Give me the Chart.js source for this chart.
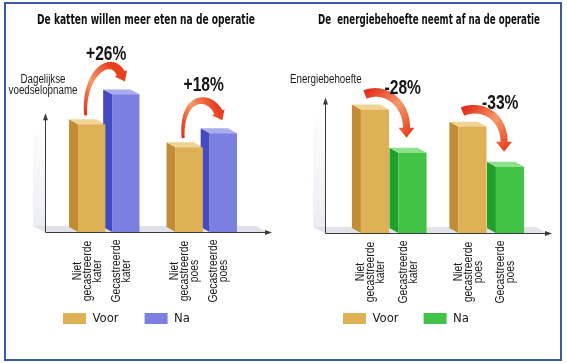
<!DOCTYPE html>
<html>
<head>
<meta charset="utf-8">
<script src="https://cdn.jsdelivr.net/npm/chart.js@4.4.1/dist/chart.umd.min.js"></script>
<style>
  html, body { margin:0; padding:0; background:#fff; }
  #wrap { position:relative; width:567px; height:363px; overflow:hidden; }
  #frame { position:absolute; left:4px; top:2px; width:554px; height:355px; border:2px solid #3d5aa8; }
  #c1 { position:absolute; left:0; top:0; }
  #c2 { position:absolute; left:283px; top:0; }
</style>
</head>
<body>
<div id="wrap">
  <div id="frame"></div>
  <canvas id="c1" width="283" height="363"></canvas>
  <canvas id="c2" width="284" height="363"></canvas>
</div>
<script>
/* data */
var groups = ['kater', 'poes'];
var voorLabels = [['Niet', 'gecastreerde', 'kater'], ['Niet', 'gecastreerde', 'poes']];
var naLabels = [['Gecastreerde', 'kater'], ['Gecastreerde', 'poes']];
var voedselVoor = [108, 85];
var voedselNa = [138, 99];
var voedselChange = ['+26%', '+18%'];
var energieVoor = [123, 106];
var energieNa = [80, 66];
var energieChange = ['-28%', '-33%'];

var FONT = '"Liberation Sans Narrow", "DejaVu Sans Condensed", "Arial Narrow", sans-serif';
var SANS = '"Liberation Sans", Arial, sans-serif';
Chart.defaults.font.family = FONT;
Chart.defaults.color = '#1a1a1a';

function poly(ctx, pts, color) {
  ctx.beginPath();
  ctx.moveTo(pts[0][0], pts[0][1]);
  for (var i = 1; i < pts.length; i++) ctx.lineTo(pts[i][0], pts[i][1]);
  ctx.closePath();
  ctx.fillStyle = color;
  ctx.fill();
}

// squeezed text, the picture uses a condensed face
function narrowText(ctx, s, x, y, sx) {
  ctx.save();
  ctx.translate(x, y);
  ctx.scale(sx, 1);
  ctx.fillText(s, 0, 0);
  ctx.restore();
}

// tapered curved arrow (cubic bezier) with a head
function curvedArrow(ctx, p0, c1, c2, p3, a) {
  var n = 40, L = [], R = [];
  for (var i = 0; i <= n; i++) {
    var t = i / n, m = 1 - t;
    var x = m*m*m*p0[0] + 3*m*m*t*c1[0] + 3*m*t*t*c2[0] + t*t*t*p3[0];
    var y = m*m*m*p0[1] + 3*m*m*t*c1[1] + 3*m*t*t*c2[1] + t*t*t*p3[1];
    var dx = 3*m*m*(c1[0]-p0[0]) + 6*m*t*(c2[0]-c1[0]) + 3*t*t*(p3[0]-c2[0]);
    var dy = 3*m*m*(c1[1]-p0[1]) + 6*m*t*(c2[1]-c1[1]) + 3*t*t*(p3[1]-c2[1]);
    var len = Math.hypot(dx, dy) || 1, nx = -dy/len, ny = dx/len;
    var w = (a.w0 + (a.w1 - a.w0) * t) / 2;
    L.push([x + nx*w, y + ny*w]);
    R.push([x - nx*w, y - ny*w]);
  }
  var tx = p3[0]-c2[0], ty = p3[1]-c2[1], tl = Math.hypot(tx, ty) || 1;
  tx /= tl; ty /= tl;
  var tip = [p3[0] + tx*a.head[0], p3[1] + ty*a.head[0]];
  var hA = [p3[0] - ty*a.head[1], p3[1] + tx*a.head[1]];
  var hB = [p3[0] + ty*a.head[1], p3[1] - tx*a.head[1]];
  var g = ctx.createLinearGradient(p0[0], p0[1], tip[0], tip[1]);
  g.addColorStop(0, '#e3301c');
  g.addColorStop(0.5, '#f49a6a');
  g.addColorStop(1, '#e8401f');
  var pts = L.concat([hA, tip, hB]).concat(R.reverse());
  poly(ctx, pts, g);
}

var deco = {
  id: 'deco',
  beforeDatasetsDraw: function(chart, args, o) {
    var ctx = chart.ctx, ca = chart.chartArea, y = chart.scales.y;
    var base = y.getPixelForValue(0), d = o.depth, dy = d * 0.55;
    var ax = ca.left - o.axisLeft, axEnd = ca.right + o.axisRight, axTop = y.getPixelForValue(o.axisTop);
    ctx.save();
    // faint back wall and floor
    var wg = ctx.createLinearGradient(0, axTop, 0, base);
    wg.addColorStop(0, 'rgba(220,222,232,0)');
    wg.addColorStop(1, 'rgba(220,222,232,0.55)');
    poly(ctx, [[ax - 12, axTop + 20], [ax, axTop + 20], [ax, base], [ax - 12, base - 6]], wg);
    poly(ctx, [[ax, base], [axEnd - 4, base], [axEnd - 14, base - 6], [ax - 12, base - 6]], '#e0e1e9');
    // bar side and top faces
    chart.data.datasets.forEach(function(ds, di) {
      chart.getDatasetMeta(di).data.forEach(function(bar) {
        var l = bar.x - bar.width / 2, r = bar.x + bar.width / 2, t = bar.y;
        poly(ctx, [[l, base], [l, t], [l - d, t - dy], [l - d, base - dy]], ds.sideColor);
        poly(ctx, [[l, t], [r, t], [r - d, t - dy], [l - d, t - dy]], ds.topColor);
      });
    });
    ctx.restore();
  },
  afterDatasetsDraw: function(chart, args, o) {
    var ctx = chart.ctx, ca = chart.chartArea, y = chart.scales.y;
    var base = y.getPixelForValue(0), d = o.depth;
    var ax = ca.left - o.axisLeft, axEnd = ca.right + o.axisRight, axTop = y.getPixelForValue(o.axisTop);
    ctx.save();
    // axes with arrow tips
    ctx.strokeStyle = '#3a3a3a';
    ctx.lineWidth = 1;
    ctx.beginPath();
    ctx.moveTo(ax + 0.5, axTop + 3);
    ctx.lineTo(ax + 0.5, base + 0.5);
    ctx.lineTo(axEnd - 3, base + 0.5);
    ctx.stroke();
    poly(ctx, [[ax + 0.5, axTop - 2], [ax - 2, axTop + 5], [ax + 3, axTop + 5]], '#3a3a3a');
    poly(ctx, [[axEnd + 2, base + 0.5], [axEnd - 5, base - 2], [axEnd - 5, base + 3]], '#3a3a3a');

    var voor = chart.getDatasetMeta(0).data, na = chart.getDatasetMeta(1).data;
    var labelSets = [voorLabels, naLabels];

    // rotated category labels under each bar
    ctx.fillStyle = '#1a1a1a';
    ctx.font = '13px ' + SANS;
    ctx.textAlign = 'center';
    ctx.textBaseline = 'middle';
    [voor, na].forEach(function(bars, di) {
      bars.forEach(function(bar, i) {
        var lines = labelSets[di][i];
        ctx.save();
        ctx.translate(bar.x - d / 2, base + o.catY);
        ctx.rotate(-Math.PI / 2);
        ctx.scale(0.8, 1);
        lines.forEach(function(s, k) {
          ctx.fillText(s, 0, (k - (lines.length - 1) / 2) * o.catLine);
        });
        ctx.restore();
      });
    });

    // change arrows + percentages
    var a = o.arrow;
    voor.forEach(function(b1, i) {
      var b2 = na[i];
      var p0 = [b1.x + a.tail[0], b1.y + a.tail[1]];
      var p3 = [b2.x + a.end[0], b2.y + a.end[1]];
      var c1 = [p0[0] + a.c1[0], p0[1] + a.c1[1]];
      var c2 = [p3[0] + a.c2[0], p3[1] + a.c2[1]];
      curvedArrow(ctx, p0, c1, c2, p3, a);
      ctx.fillStyle = '#151515';
      ctx.font = 'bold 20px ' + SANS;
      ctx.textAlign = 'center';
      ctx.textBaseline = 'middle';
      narrowText(ctx, o.changes[i], (p0[0] + p3[0]) / 2 + o.changeOffset[0], (p0[1] + p3[1]) / 2 + o.changeOffset[1], 0.78);
    });

    // y axis caption
    var yt = o.yTitle;
    ctx.fillStyle = '#1a1a1a';
    ctx.font = '12.5px ' + SANS;
    ctx.textAlign = yt.align;
    yt.lines.forEach(function(s, k) {
      narrowText(ctx, s, ca.left + yt.x, ca.top + yt.y + k * 11, yt.sx);
    });
    ctx.restore();
  }
};

function makeChart(id, title, voor, na, naColors, changes, layout, decoOpts) {
  return new Chart(document.getElementById(id), {
    type: 'bar',
    data: {
      labels: groups,
      datasets: [
        { label: 'Voor', data: voor, backgroundColor: '#deb157', sideColor: '#c18c33', topColor: '#f0d592',
          borderWidth: 0, categoryPercentage: layout.cat, barPercentage: layout.bar },
        { label: 'Na', data: na, backgroundColor: naColors[0], sideColor: naColors[1], topColor: naColors[2],
          borderWidth: 0, categoryPercentage: layout.cat, barPercentage: layout.bar }
      ]
    },
    options: {
      responsive: false,
      animation: false,
      layout: { padding: { left: layout.padL, right: layout.padR, top: 0, bottom: 28 } },
      scales: {
        x: { display: true, ticks: { display: false }, grid: { display: false }, border: { display: false },
             afterFit: function(s) { s.height = 54; } },
        y: { display: true, min: 0, max: 150, ticks: { display: false }, grid: { display: false }, border: { display: false },
             afterFit: function(s) { s.width = layout.yW; } }
      },
      plugins: {
        title: { display: true, text: title, color: '#111', font: { size: 13.5, weight: 'bold' },
                 padding: { top: 12, bottom: 54.2 } },
        legend: { position: 'bottom', align: 'start',
                  labels: { boxWidth: 23, boxHeight: 11, padding: layout.legPad, color: '#1a1a1a', font: { size: 13 } } },
        tooltip: { enabled: false },
        deco: decoOpts
      }
    },
    plugins: [deco]
  });
}

makeChart('c1', 'De katten willen meer eten na de operatie', voedselVoor, voedselNa,
  ['#7b7fe0', '#444bc2', '#a9acee'], voedselChange,
  { padL: 37, padR: 28, yW: 23, legPad: 26, cat: 0.70, bar: 0.80 },
  { depth: 9, axisLeft: 15, axisRight: 15, axisTop: 117, catY: 39, catLine: 10,
    arrow: { tail: [-6, -9], c1: [-3, -42], c2: [-10, -20], end: [-5, -21], w0: 3, w1: 9, head: [9, 7] },
    changes: voedselChange, changeOffset: [3, -40],
    yTitle: { lines: ['Dagelijkse', 'voedselopname'], x: -17, y: -3, align: 'center', sx: 0.78 } });

makeChart('c2', 'De  energiebehoefte neemt af na de operatie', energieVoor, energieNa,
  ['#42c246', '#22a02c', '#8ee08c'], energieChange,
  { padL: 35, padR: 27, yW: 27, legPad: 25, cat: 0.77, bar: 0.75 },
  { depth: 9, axisLeft: 20, axisRight: 10, axisTop: 133, catY: 39, catLine: 10,
    arrow: { tail: [-10, -15], c1: [20, -8], c2: [0, -25], end: [-6, -25], w0: 9, w1: 7, head: [10, 8] },
    changes: energieChange, changeOffset: [17, -23],
    yTitle: { lines: ['Energiebehoefte'], x: -55, y: -3, align: 'left', sx: 0.78 } });
</script>
</body>
</html>
